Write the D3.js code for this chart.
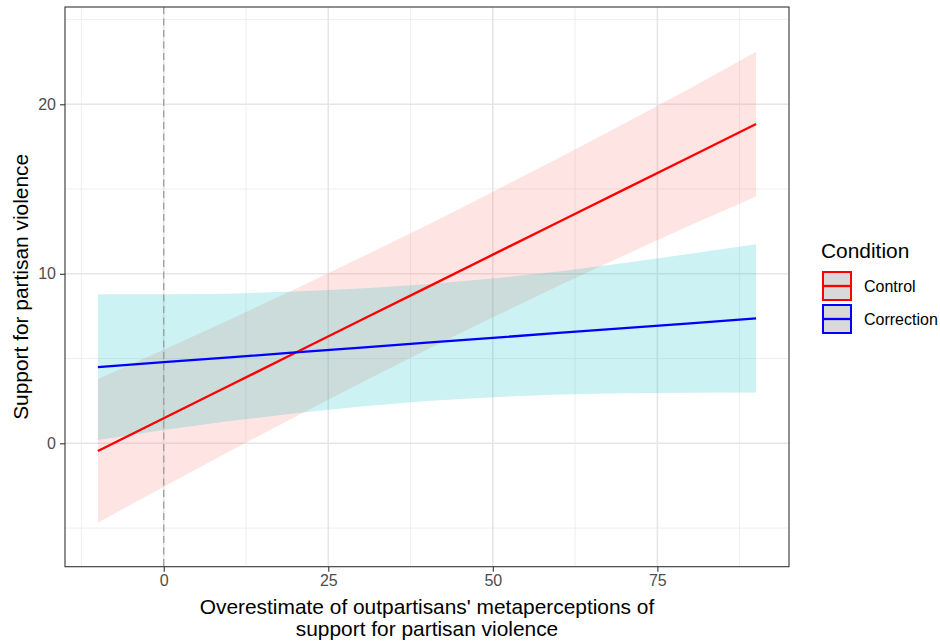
<!DOCTYPE html>
<html>
<head>
<meta charset="utf-8">
<script src="https://cdn.jsdelivr.net/npm/d3@7"></script>
<style>
  html, body { margin: 0; padding: 0; background: #ffffff; }
  svg { display: block; font-family: "Liberation Sans", Arial, Helvetica, sans-serif; }
</style>
</head>
<body>
<svg id="chart" width="940" height="642"></svg>
<script>
// ---- data ----
const xValues = [-10, 0, 10, 20, 30, 40, 50, 60, 70, 80, 90];

const controlFit   = [-0.45, 1.48, 3.41, 5.34, 7.27, 9.20, 11.13, 13.06, 14.98, 16.91, 18.84];
const controlUpper = [3.80, 5.52, 7.29, 9.11, 10.97, 12.87, 14.83, 16.83, 18.86, 20.95, 23.10];
const controlLower = [-4.68, -2.56, -0.47, 1.57, 3.57, 5.53, 7.43, 9.29, 11.10, 12.87, 14.56];

const correctionFit   = [4.50, 4.79, 5.07, 5.36, 5.65, 5.94, 6.22, 6.51, 6.80, 7.08, 7.37];
const correctionUpper = [8.80, 8.79, 8.83, 8.95, 9.13, 9.38, 9.72, 10.14, 10.64, 11.18, 11.74];
const correctionLower = [0.20, 0.79, 1.31, 1.77, 2.17, 2.50, 2.72, 2.88, 2.96, 2.98, 3.00];

const conditions = ["Control", "Correction"];
const lineColors = ["#FF0000", "#0000FF"];
const ribbonColors = ["#F8766D", "#00BFC4"];

const xTicks = [0, 25, 50, 75];
const xMinorTicks = [-12.5, 12.5, 37.5, 62.5, 87.5];
const yTicks = [0, 10, 20];
const yMinorTicks = [-5, 5, 15, 25];
const refLineX = 0;

const xTitleLines = ["Overestimate of outpartisans' metaperceptions of", "support for partisan violence"];
const yTitle = "Support for partisan violence";
const legendTitle = "Condition";

// ---- layout ----
const panel = { left: 65, right: 789, top: 7, bottom: 566.7 };
const xDomain = [-15, 95];
const yDomain = [-7.28, 25.74];

const svg = d3.select("#chart");
const x = d3.scaleLinear().domain(xDomain).range([panel.left, panel.right]);
const y = d3.scaleLinear().domain(yDomain).range([panel.bottom, panel.top]);

const tickFont = 16, titleFont = 20.9;

// panel background
svg.append("rect")
  .attr("x", panel.left).attr("y", panel.top)
  .attr("width", panel.right - panel.left).attr("height", panel.bottom - panel.top)
  .attr("fill", "#ffffff");

// grid
const grid = svg.append("g");
grid.selectAll(".xminor").data(xMinorTicks).join("line")
  .attr("x1", d => x(d)).attr("x2", d => x(d))
  .attr("y1", panel.top).attr("y2", panel.bottom)
  .attr("stroke", "#ebebeb").attr("stroke-width", 0.8);
grid.selectAll(".yminor").data(yMinorTicks).join("line")
  .attr("y1", d => y(d)).attr("y2", d => y(d))
  .attr("x1", panel.left).attr("x2", panel.right)
  .attr("stroke", "#ebebeb").attr("stroke-width", 0.8);
grid.selectAll(".xmajor").data(xTicks).join("line")
  .attr("x1", d => x(d)).attr("x2", d => x(d))
  .attr("y1", panel.top).attr("y2", panel.bottom)
  .attr("stroke", "#e6e6e6").attr("stroke-width", 1.6);
grid.selectAll(".ymajor").data(yTicks).join("line")
  .attr("y1", d => y(d)).attr("y2", d => y(d))
  .attr("x1", panel.left).attr("x2", panel.right)
  .attr("stroke", "#e6e6e6").attr("stroke-width", 1.6);

// series
const series = [
  { name: conditions[0], fit: controlFit, lo: controlLower, hi: controlUpper, line: lineColors[0], fill: ribbonColors[0] },
  { name: conditions[1], fit: correctionFit, lo: correctionLower, hi: correctionUpper, line: lineColors[1], fill: ribbonColors[1] }
];

const area = d3.area()
  .x((d, i) => x(xValues[i]))
  .y0(d => y(d[0]))
  .y1(d => y(d[1]));
const line = d3.line()
  .x((d, i) => x(xValues[i]))
  .y(d => y(d));

series.forEach(s => {
  svg.append("path")
    .datum(s.lo.map((v, i) => [v, s.hi[i]]))
    .attr("d", area)
    .attr("fill", s.fill)
    .attr("fill-opacity", 0.2);
});
series.forEach(s => {
  svg.append("path")
    .datum(s.fit)
    .attr("d", line)
    .attr("fill", "none")
    .attr("stroke", s.line)
    .attr("stroke-width", 2.3);
});

// dashed reference line
svg.append("line")
  .attr("x1", x(refLineX)).attr("x2", x(refLineX))
  .attr("y1", panel.top).attr("y2", panel.bottom)
  .attr("stroke", "#9e9e9e").attr("stroke-width", 1.3)
  .attr("stroke-dasharray", "7,4.5");

// panel border
svg.append("rect")
  .attr("x", panel.left).attr("y", panel.top)
  .attr("width", panel.right - panel.left).attr("height", panel.bottom - panel.top)
  .attr("fill", "none").attr("stroke", "#333333").attr("stroke-width", 1.1);

// axes
const xAxis = d3.axisBottom(x).tickValues(xTicks).tickSize(5).tickPadding(3);
const gx = svg.append("g").attr("transform", `translate(0,${panel.bottom})`).call(xAxis);
gx.select(".domain").remove();
gx.selectAll(".tick line").attr("stroke", "#333333").attr("stroke-width", 1.1);
gx.selectAll(".tick text").attr("fill", "#4d4d4d").attr("font-size", tickFont)
  .attr("font-family", "Liberation Sans, Arial, sans-serif");

const yAxis = d3.axisLeft(y).tickValues(yTicks).tickSize(5).tickPadding(4);
const gy = svg.append("g").attr("transform", `translate(${panel.left},0)`).call(yAxis);
gy.select(".domain").remove();
gy.selectAll(".tick line").attr("stroke", "#333333").attr("stroke-width", 1.1);
gy.selectAll(".tick text").attr("fill", "#4d4d4d").attr("font-size", tickFont)
  .attr("font-family", "Liberation Sans, Arial, sans-serif");

// axis titles
const cx = (panel.left + panel.right) / 2;
svg.append("g").selectAll("text").data(xTitleLines).join("text")
  .attr("x", cx)
  .attr("y", (d, i) => 614 + i * 22)
  .attr("text-anchor", "middle")
  .attr("font-size", titleFont)
  .attr("fill", "#000000")
  .text(d => d);

const cy = (panel.top + panel.bottom) / 2;
svg.append("text")
  .attr("transform", `translate(27.5,${cy}) rotate(-90)`)
  .attr("text-anchor", "middle")
  .attr("font-size", titleFont)
  .attr("fill", "#000000")
  .text(yTitle);

// legend
const legend = svg.append("g");
legend.append("text")
  .attr("x", 821).attr("y", 257.5)
  .attr("font-size", titleFont)
  .attr("fill", "#000000")
  .text(legendTitle);

const keyX = 823, keyY0 = 272, keyStep = 33, keySize = 28;
series.forEach((s, i) => {
  const ky = keyY0 + i * keyStep;
  legend.append("rect")
    .attr("x", keyX).attr("y", ky)
    .attr("width", keySize).attr("height", keySize)
    .attr("fill", "#d9d9d9")
    .attr("stroke", s.line).attr("stroke-width", 2);
  legend.append("line")
    .attr("x1", keyX + 1).attr("x2", keyX + keySize - 1)
    .attr("y1", ky + keySize / 2).attr("y2", ky + keySize / 2)
    .attr("stroke", s.line).attr("stroke-width", 2.3);
  legend.append("text")
    .attr("x", 864).attr("y", ky + keySize / 2 + 5.8)
    .attr("font-size", tickFont)
    .attr("fill", "#000000")
    .text(s.name);
});
</script>
</body>
</html>
